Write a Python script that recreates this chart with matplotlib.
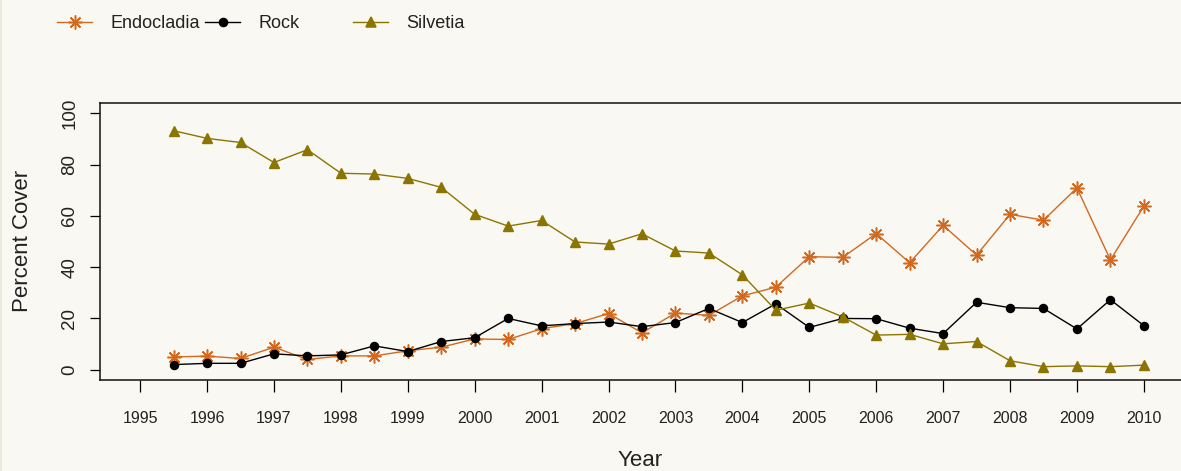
import matplotlib
matplotlib.use("Agg")
import matplotlib.pyplot as plt
from matplotlib.lines import Line2D
from matplotlib.patches import Rectangle

years = [1995.5, 1996, 1996.5, 1997, 1997.5, 1998, 1998.5, 1999, 1999.5, 2000,
         2000.5, 2001, 2001.5, 2002, 2002.5, 2003, 2003.5, 2004, 2004.5, 2005,
         2005.5, 2006, 2006.5, 2007, 2007.5, 2008, 2008.5, 2009, 2009.5, 2010]

endocladia = [5.0, 5.3, 4.4, 8.8, 4.0, 5.4, 5.4, 7.4, 8.8, 12.0,
              11.8, 16.0, 18.0, 21.9, 14.4, 22.1, 21.2, 28.8, 32.2, 44.1,
              43.8, 53.1, 41.7, 56.3, 44.7, 60.6, 58.3, 70.9, 42.8, 63.8]
rock = [2.0, 2.5, 2.5, 6.2, 5.4, 5.8, 9.3, 7.1, 11.0, 12.5,
        20.0, 17.1, 18.0, 18.6, 16.8, 18.4, 23.9, 18.4, 25.7, 16.5,
        20.0, 19.9, 16.2, 14.1, 26.3, 24.2, 23.9, 15.9, 27.3, 17.2]
silvetia = [93.2, 90.2, 88.6, 80.8, 85.8, 76.6, 76.3, 74.6, 71.1, 60.6,
            56.0, 58.2, 49.8, 49.0, 53.0, 46.3, 45.5, 37.0, 23.2, 26.0,
            20.6, 13.5, 13.8, 10.1, 11.0, 3.5, 1.2, 1.5, 1.2, 1.8]

xticks = list(range(1995, 2011))
yticks = [0, 20, 40, 60, 80, 100]

c_endo = "#D2691E"
c_rock = "#000000"
c_silv = "#8B7500"
bg = "#F9F8F3"

W, H = 1181, 471
fig = plt.figure(figsize=(W / 100, H / 100), dpi=100, facecolor=bg)
fig.patches.append(Rectangle((0, 0), 2 / W, 1, transform=fig.transFigure,
                             facecolor="#ECE8DC", edgecolor="none"))

left, right, top, bottom = 100, 1184, 103, 380
ax = fig.add_axes([left / W, (H - bottom) / H, (right - left) / W, (bottom - top) / H])
ax.set_facecolor(bg)

asterisk = (8, 2, 0)
ms_endo, ms_rock, ms_silv = 10, 5.8, 7
ax.plot(years, endocladia, color=c_endo, lw=1.0, marker=asterisk, ms=ms_endo, mew=1.1,
        mec=c_endo, mfc=c_endo, clip_on=False)
ax.plot(years, rock, color=c_rock, lw=1.0, marker="o", ms=ms_rock, mec=c_rock,
        mfc=c_rock, clip_on=False)
ax.plot(years, silvetia, color=c_silv, lw=1.0, marker="^", ms=ms_silv, mec=c_silv,
        mfc=c_silv, clip_on=False)

ax.set_xlim(1994.4, 2010.6)
ax.set_ylim(-4, 104)
ax.set_xticks(xticks)
ax.set_xticklabels([str(y) for y in xticks],
                   fontdict={"family": "Liberation Sans", "size": 11.5})
ax.set_yticks(yticks)
ax.set_yticklabels([str(v) for v in yticks], rotation=90, va="center",
                   fontdict={"family": "Liberation Sans", "size": 13.5})
ax.tick_params(axis="x", length=8.5, width=0.9, pad=14, colors="#000000", labelcolor="#222222")
ax.tick_params(axis="y", length=7.5, width=0.9, pad=8, colors="#000000", labelcolor="#222222")

for s in ["left", "bottom", "top", "right"]:
    ax.spines[s].set_linewidth(1.1)
    ax.spines[s].set_color("#111111")

fig.text(23 / W, 1 - 241 / H, "Percent Cover", rotation=90, ha="center", va="center",
         family="Liberation Sans", fontsize=16, color="#222222")
fig.text(640 / W, 1 - 461 / H, "Year", ha="center", va="center",
         family="Liberation Sans", fontsize=16, color="#222222")

# legend
ly = 1 - 22 / H
entries = [("Endocladia", c_endo, asterisk, ms_endo, 57),
           ("Rock", c_rock, "o", ms_rock, 205),
           ("Silvetia", c_silv, "^", ms_silv, 353)]
for label, col, mk, ms, x0 in entries:
    fig.lines.append(Line2D([x0 / W, (x0 + 35) / W], [ly, ly], transform=fig.transFigure,
                            color=col, lw=1.0))
    fig.lines.append(Line2D([(x0 + 17.5) / W], [ly], transform=fig.transFigure,
                            color=col, marker=mk, ms=ms, mec=col, mfc=col, mew=1.1, lw=0))
    fig.text((x0 + 53) / W, ly, label, ha="left", va="center_baseline",
             family="Liberation Sans", fontsize=13, color="#222222")

fig.savefig("out.png", dpi=100, facecolor=bg)
